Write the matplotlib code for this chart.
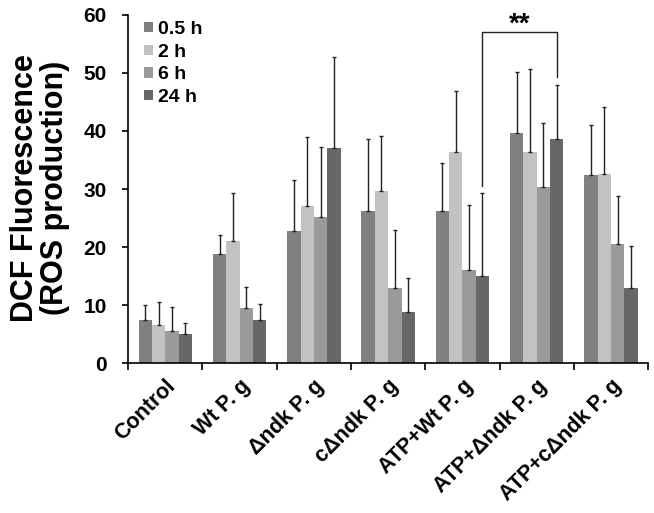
import numpy as np
import matplotlib
matplotlib.use("Agg")
import matplotlib.pyplot as plt

plt.rcParams['font.family'] = ['Liberation Sans', 'DejaVu Sans']

# data
groups = ["Control", "Wt P. g", "\u0394ndk P. g", "c\u0394ndk P. g",
          "ATP+Wt P. g", "ATP+\u0394ndk P. g", "ATP+c\u0394ndk P. g"]
series = ["0.5 h", "2 h", "6 h", "24 h"]
colors = ["#808080", "#c2c2c2", "#9a9a9a", "#676767"]

means = np.array([
    [7.5, 18.8, 22.8, 26.2, 26.3, 39.7, 32.4],   # 0.5 h
    [6.5, 21.0, 27.0, 29.7, 36.3, 36.3, 32.6],   # 2 h
    [5.5, 9.5, 25.2, 12.9, 16.0, 30.3, 20.5],    # 6 h
    [5.0, 7.5, 37.0, 8.9, 15.0, 38.6, 13.0],     # 24 h
])
upper = np.array([
    [10.0, 22.0, 31.5, 38.6, 34.5, 50.2, 41.1],
    [10.5, 29.3, 39.0, 39.1, 46.9, 50.6, 44.2],
    [9.6, 13.2, 37.2, 23.0, 27.2, 41.3, 28.8],
    [7.0, 10.2, 52.8, 14.7, 29.3, 48.0, 20.2],
])
errs = upper - means

fig = plt.figure(figsize=(6.54, 5.13), dpi=100)
ax = fig.add_axes([0.196, 0.292, 0.795, 0.679])

n = len(groups)
w = 0.18
x = np.arange(n) + 0.5
for k in range(len(series)):
    pos = x + (k - 1.5) * w
    ax.bar(pos, means[k], width=w, color=colors[k], label=series[k], zorder=2)
    ax.errorbar(pos, means[k], yerr=[np.zeros(n), errs[k]], fmt="none",
                ecolor="#222222", elinewidth=1.0, capsize=1.5, capthick=1.0, zorder=3)

ax.set_xlim(0, n)
ax.set_ylim(0, 60)
ax.set_yticks(range(0, 61, 10))
ax.set_yticklabels([str(v) for v in range(0, 61, 10)], fontsize=15, fontweight="bold")
ax.set_xticks(x)
ax.set_xticklabels(groups, rotation=45, ha="right", rotation_mode="anchor",
                   fontsize=15.5, fontweight="bold")
ax.tick_params(axis="x", which="major", length=0, pad=9)
ax.set_xticks(np.arange(n + 1), minor=True)
ax.tick_params(axis="x", which="minor", length=5, width=1.2, direction="out")
ax.tick_params(axis="y", length=4.5, width=1.2, direction="out", pad=11)

for s in ["top", "right"]:
    ax.spines[s].set_visible(False)
for s in ["left", "bottom"]:
    ax.spines[s].set_linewidth(1.2)

ax.set_ylabel("DCF Fluorescence\n(ROS production)", fontsize=22, fontweight="bold",
              linespacing=1.0)
ax.yaxis.set_label_coords(-0.112, 0.504)

# significance bracket
xa = x[4] + 1.5 * w
xb = x[5] + 1.5 * w
ax.plot([xa, xa, xb, xb], [30.5, 57.0, 57.0, 49.3], color="#222222", lw=1.0, zorder=4)
ax.text((xa + xb) / 2, 58.3, "**", ha="center", va="center", fontsize=20, fontweight="bold")

leg = ax.legend(loc="upper left", bbox_to_anchor=(0.03, 0.982), frameon=False, borderpad=0,
                borderaxespad=0, prop={"size": 14, "weight": "bold"}, handlelength=0.45,
                handleheight=0.45, handletextpad=0.3, labelspacing=0.29)

fig.savefig("out.png", dpi=100)
